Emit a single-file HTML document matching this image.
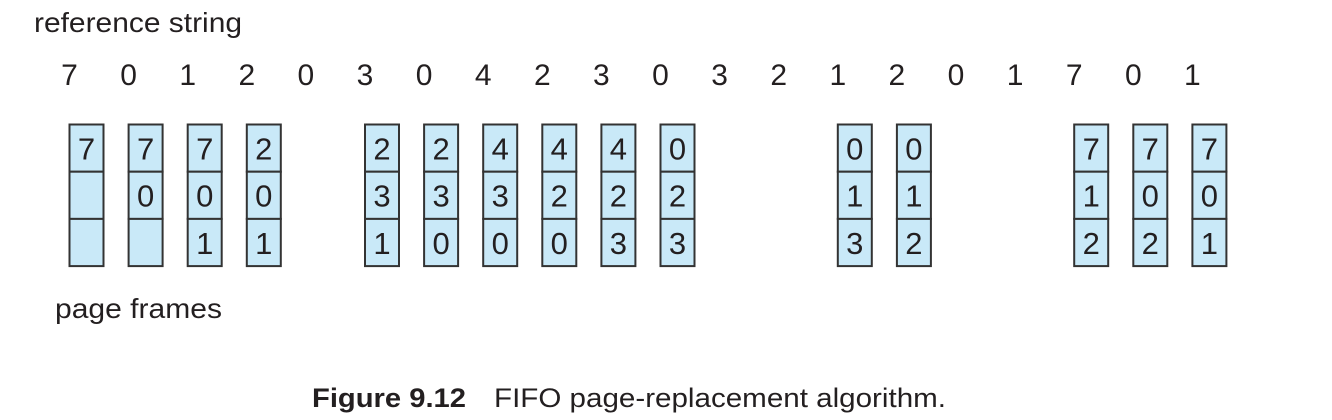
<!DOCTYPE html>
<html><head><meta charset="utf-8"><style>
html,body{margin:0;padding:0;background:#fff;}
svg{display:block;font-family:"Liberation Sans",Arial,sans-serif;}
</style></head><body>
<svg id="fig" width="1332" height="420" viewBox="0 0 1332 420" xmlns="http://www.w3.org/2000/svg">
<text x="34" y="32" font-size="28" textLength="208" lengthAdjust="spacingAndGlyphs" fill="#231f20">reference string</text>
<g id="refs"></g>
<g id="frames"></g>
<text x="55" y="318" font-size="28" textLength="167" lengthAdjust="spacingAndGlyphs" fill="#231f20">page frames</text>
<text x="312" y="407" font-size="27" font-weight="bold" textLength="154" lengthAdjust="spacingAndGlyphs" fill="#231f20">Figure 9.12</text>
<text x="494" y="407" font-size="27" textLength="452" lengthAdjust="spacingAndGlyphs" fill="#231f20">FIFO page-replacement algorithm.</text>
</svg>
<script>
const refString = [7,0,1,2,0,3,0,4,2,3,0,3,2,1,2,0,1,7,0,1];
const frameSteps = [0,1,2,3,5,6,7,8,9,10,13,14,17,18,19];
const frameContents = [
 [7,null,null],[7,0,null],[7,0,1],[2,0,1],[2,3,1],[2,3,0],[4,3,0],[4,2,0],[4,2,3],[0,2,3],
 [0,1,3],[0,1,2],[7,1,2],[7,0,2],[7,0,1]
];
const NS="http://www.w3.org/2000/svg";
function xCenter(i){return 86.5+i*59.1;}
const refsG=document.getElementById('refs');
refString.forEach((v,i)=>{
  const t=document.createElementNS(NS,'text');
  t.setAttribute('x',xCenter(i)-17);
  t.setAttribute('y',85);
  t.setAttribute('font-size','30');
  t.setAttribute('text-anchor','middle');
  t.setAttribute('fill','#231f20');
  
  
  t.textContent=v;
  refsG.appendChild(t);
});
const framesG=document.getElementById('frames');
const boxTop=124.5,cellH=47.2,boxW=34;
frameSteps.forEach((s,k)=>{
  const g=document.createElementNS(NS,'g');
  
  
  const x=xCenter(s)-boxW/2;
  frameContents[k].forEach((v,r)=>{
    const rect=document.createElementNS(NS,'rect');
    rect.setAttribute('x',x);rect.setAttribute('y',boxTop+r*cellH);
    rect.setAttribute('width',boxW);rect.setAttribute('height',cellH);
    rect.setAttribute('fill','#c9e9f8');rect.setAttribute('stroke','#333');rect.setAttribute('stroke-width','2');
    
    
    g.appendChild(rect);
    if(v!==null){
      const t=document.createElementNS(NS,'text');
      t.setAttribute('x',x+boxW/2);t.setAttribute('y',boxTop+r*cellH+35);
      t.setAttribute('font-size','31');t.setAttribute('text-anchor','middle');t.setAttribute('fill','#231f20');
      
      
      t.textContent=v;
      g.appendChild(t);
    }
  });
  framesG.appendChild(g);
});
</script>
</body></html>
